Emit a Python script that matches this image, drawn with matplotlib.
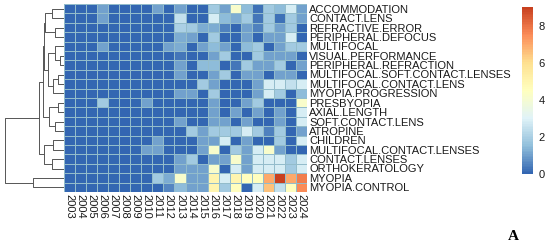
import numpy as np
import matplotlib
matplotlib.use("Agg")
import matplotlib.pyplot as plt
from matplotlib.colors import LinearSegmentedColormap

plt.rcParams["font.family"] = ["Liberation Sans", "DejaVu Sans"]

years = [str(y) for y in range(2003, 2025)]
terms = ["ACCOMMODATION", "CONTACT.LENS", "REFRACTIVE.ERROR", "PERIPHERAL.DEFOCUS",
         "MULTIFOCAL", "VISUAL.PERFORMANCE", "PERIPHERAL.REFRACTION",
         "MULTIFOCAL.SOFT.CONTACT.LENSES", "MULTIFOCAL.CONTACT.LENS", "MYOPIA.PROGRESSION",
         "PRESBYOPIA", "AXIAL.LENGTH", "SOFT.CONTACT.LENS", "ATROPINE", "CHILDREN",
         "MULTIFOCAL.CONTACT.LENSES", "CONTACT.LENSES", "ORTHOKERATOLOGY", "MYOPIA",
         "MYOPIA.CONTROL"]

# approximate keyword strength per year
accommodation   = [0,0,0,1,0,0,0,0,1,0,1,0,0,1.8,1,4.2,1.5,0.2,1.8,1.5,2.8,1]
contact_lens    = [0,0,0,1,0,0,0,0,0,0,2.5,0,0,2.8,1.5,1.2,1.8,0.3,1.8,0.2,1.8,1]
refractive_err  = [0,0,0,0,0,0,0,0,0,0,2,1.8,1.2,1.2,0.5,0,1,0.5,1.8,1,1.8,0]
periph_defocus  = [0,0,0,0,0,0,0,0,0,0,1.2,1,0,1.8,0,0,1,0,1,1,2.8,0]
multifocal      = [0,0,0,1,0,0,0,0,0,1,1.2,0,1,1.5,1,0,1.5,1.8,0,1,1.8,1.8]
visual_perf     = [0,0,0,0,0,0,0,0,0,0,0.3,0,0,1,1.8,0,0,1.8,1,1,1,0]
periph_refr     = [0,0,0,0,0,0,0,0,0,0,1,0,1.5,1.5,0,0.3,1.8,1,1,1.8,0,1]
mf_soft_cls     = [0,0,0,0,0,0,0,0,0,0,1,0,0,1,1.8,0,1,1,0,1,1,0]
mf_contact_lens = [0,0,0,0,0,0,0,0,0,0,0,0,1.8,1,0,0,0,1,2.8,2.8,2.5,2.8]
myopia_progr    = [0,0,0,0,0,0,0,0,0,0,1,1,0,1.8,0,0,0,1,2.8,1.8,0,1.5]
presbyopia      = [0,0,0,1.8,0,0,0,1,0,0,0,0,0,1,0,0,1,1.8,0,0,0,4.2]
axial_length    = [0,0,0,0,0,0,0,0,0,0,0,0,0,1,0,1,0,1,0,1,0,2.8]
soft_cl         = [0,0,0,0,0,0,0,0,0,0,1,0,0,1,1,0,1,0,0,1,0,2.8]
atropine        = [0,0,0,0,0,0,0,0,0,0,0,1.8,1,1.8,1.8,1.8,2.8,1.8,0.5,1.8,0,1]
children        = [0,0,0,0,0,0,0,0,1,0,0,0,1,1,2.8,0,1,0,0,1.8,0,2.8]
mf_contact_lses = [0,0,0,0,0,0,0,1,1,0,0,0,1,4.2,0,1.8,1,2.8,4.2,1,0,0]
contact_lenses  = [0,0,0,0,0,0,0,0,0,0,1,1.8,0,1,1,4.2,1,2.8,2.8,2.8,1.8,2.8]
orthokeratology = [0,0,0,0,0,0,0,0,0,0,1,1,1,4.2,0,2.8,1,2.8,2.8,2.8,1.8,2.8]
myopia          = [0,0,0,0,0,0,0,0,1.8,1.2,4.2,1,1,5,2.8,5,4.5,4.5,7,9,7,7.8]
myopia_control  = [0,0,0,0,0,0,0,0,0,0.6,1.5,1,1,5,1.8,4.5,0,2.8,6.5,2.5,4.5,7.5]

values = np.array([accommodation, contact_lens, refractive_err, periph_defocus, multifocal,
                   visual_perf, periph_refr, mf_soft_cls, mf_contact_lens, myopia_progr,
                   presbyopia, axial_length, soft_cl, atropine, children, mf_contact_lses,
                   contact_lenses, orthokeratology, myopia, myopia_control])

# row dendrogram: merge i joins nodes merge_a[i] and merge_b[i] (leaves 0-19, clusters 20+)
merge_a = [0, 2, 20, 5, 4, 7, 25, 24, 22, 10, 12, 29, 28, 14, 16, 33, 32, 18, 36]
merge_b = [1, 3, 21, 6, 23, 8, 9, 26, 27, 11, 13, 30, 31, 15, 17, 34, 35, 19, 37]
merge_h = [12, 9, 19, 4, 9, 6, 11, 16, 20, 6, 9, 15, 21, 11, 12, 20, 25, 31, 59]

cmap = LinearSegmentedColormap.from_list(
    "rdylbu_r", ["#3366b2", "#91bfdb", "#e0f3f8", "#ffffbf", "#fee090", "#fc8d59", "#c8401f"], N=100)

W, H = 550, 248
fig = plt.figure(figsize=(W / 100, H / 100), dpi=100)

hx0, hx1, hy0, hy1 = 64, 307, 4, 192
ax = fig.add_axes([hx0 / W, 1 - hy1 / H, (hx1 - hx0) / W, (hy1 - hy0) / H])
nr, nc = values.shape
mesh = ax.pcolormesh(np.arange(nc + 1), np.arange(nr + 1), values, cmap=cmap, vmin=0, vmax=9,
                     edgecolors="#93bccb", linewidth=0.6)
ax.set_xlim(0, nc); ax.set_ylim(nr, 0)
for s in ax.spines.values():
    s.set_visible(False)
ax.yaxis.tick_right()
ax.set_yticks(np.arange(nr) + 0.5)
ax.set_yticklabels(terms, fontsize=8, color="#1a1a1a")
ax.set_xticks(np.arange(nc) + 0.5)
ax.set_xticklabels(years, rotation=270, fontsize=8, color="#1a1a1a")
ax.tick_params(length=0, pad=1.5)

# dendrogram
dax = fig.add_axes([0, 1 - hy1 / H, hx0 / W, (hy1 - hy0) / H])
pos = {i: i + 0.5 for i in range(nr)}
hgt = {i: 0.0 for i in range(nr)}
for k, (a, b, h) in enumerate(zip(merge_a, merge_b, merge_h)):
    node = nr + k
    dax.plot([hgt[a], h, h, hgt[b]], [pos[a], pos[a], pos[b], pos[b]],
             color="#555555", lw=0.7, solid_capstyle="butt")
    pos[node] = (pos[a] + pos[b]) / 2
    hgt[node] = h
dax.set_xlim(64, 0); dax.set_ylim(nr, 0)
dax.axis("off")

# colour legend
cax = fig.add_axes([522 / W, 1 - 174 / H, 11 / W, 167 / H])
cb = fig.colorbar(mesh, cax=cax, ticks=[0, 2, 4, 6, 8])
cb.outline.set_visible(False)
cax.tick_params(length=0, pad=4, labelsize=8, labelcolor="#1a1a1a")

fig.text(513 / W, 1 - 236 / H, "A", fontsize=11, fontweight="bold",
         family=["Liberation Serif", "DejaVu Serif"], ha="center", va="center")

fig.savefig("out.png", dpi=100)
